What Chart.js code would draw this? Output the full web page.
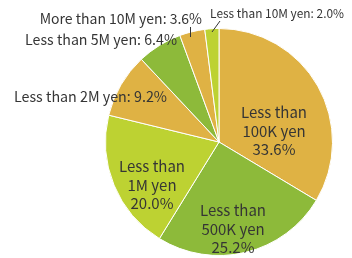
<!DOCTYPE html>
<html>
<head>
<meta charset="utf-8">
<script src="https://cdn.jsdelivr.net/npm/chart.js@4"></script>
<style>
  html, body { margin: 0; padding: 0; background: #fff; }
  #wrap { width: 352px; height: 258px; position: relative; }
</style>
</head>
<body>
<div id="wrap"><canvas id="incomeChart" width="352" height="258"></canvas></div>
<script>
const categorias = [
  "Less than 100K yen",
  "Less than 500K yen",
  "Less than 1M yen",
  "Less than 2M yen",
  "Less than 5M yen",
  "More than 10M yen",
  "Less than 10M yen",
];
const percentuais = [33.6, 25.2, 20.0, 9.2, 6.4, 3.6, 2.0];

const cores = ["#DFB244", "#8DBA3A", "#BDD232", "#DFB244", "#8DBA3A", "#DFB244", "#BDD232"];

const FONTE = '"Noto Sans CJK JP", "Liberation Sans", sans-serif';

// where each label goes, relative to pie center (px)
const rotulos = [
  { tipo: "dentro", dx: 55, dy: -11 },
  { tipo: "dentro", dx: 14, dy: 87 },
  { tipo: "dentro", dx: -67, dy: 43 },
  { tipo: "fora", x: 167, y: 97, size: 14.3 },
  { tipo: "fora", x: 177, y: 40, size: 14.2 },
  { tipo: "fora", x: 202, y: 19, size: 14 },
  { tipo: "fora", x: 344, y: 13, size: 11.9, linha: [212, 32, 220, 21] },
];

const labelsPlugin = {
  id: "labelsPlugin",
  afterDatasetsDraw(chart) {
    const ctx = chart.ctx;
    const meta = chart.getDatasetMeta(0);
    const cx = meta.data[0].x;
    const cy = meta.data[0].y;
    ctx.save();
    ctx.fillStyle = "#353535";
    ctx.strokeStyle = "#353535";
    ctx.textBaseline = "middle";
    rotulos.forEach((r, i) => {
      const nome = categorias[i];
      const valor = percentuais[i].toFixed(1) + "%";
      if (r.tipo === "dentro") {
        const partes = nome.split(" than ");
        const linhas = [partes[0] + " than", partes[1], valor];
        ctx.font = "15px " + FONTE;
        ctx.textAlign = "center";
        linhas.forEach((l, k) => {
          ctx.fillText(l, cx + r.dx, cy + r.dy + (k - 1) * 18.5);
        });
      } else {
        ctx.font = r.size + "px " + FONTE;
        ctx.textAlign = "right";
        ctx.fillText(nome + ": " + valor, r.x, r.y);
      }
    });
    // leader lines for the two thin slices
    ctx.lineWidth = 1;
    ctx.beginPath();
    ctx.moveTo(190.5, 37);
    ctx.lineTo(190.5, 27);
    ctx.moveTo(212, 32);
    ctx.lineTo(220, 21);
    ctx.stroke();
    ctx.restore();
  },
};

new Chart(document.getElementById("incomeChart").getContext("2d"), {
  type: "pie",
  data: {
    labels: categorias,
    datasets: [
      {
        data: percentuais,
        backgroundColor: cores,
        borderWidth: 1,
        borderColor: "#fff",
      },
    ],
  },
  options: {
    responsive: false,
    animation: false,
    layout: { padding: { left: 105, right: 19, top: 28, bottom: 2 } },
    plugins: {
      legend: { display: false },
      tooltip: { enabled: false },
    },
  },
  plugins: [labelsPlugin],
});
</script>
</body>
</html>
